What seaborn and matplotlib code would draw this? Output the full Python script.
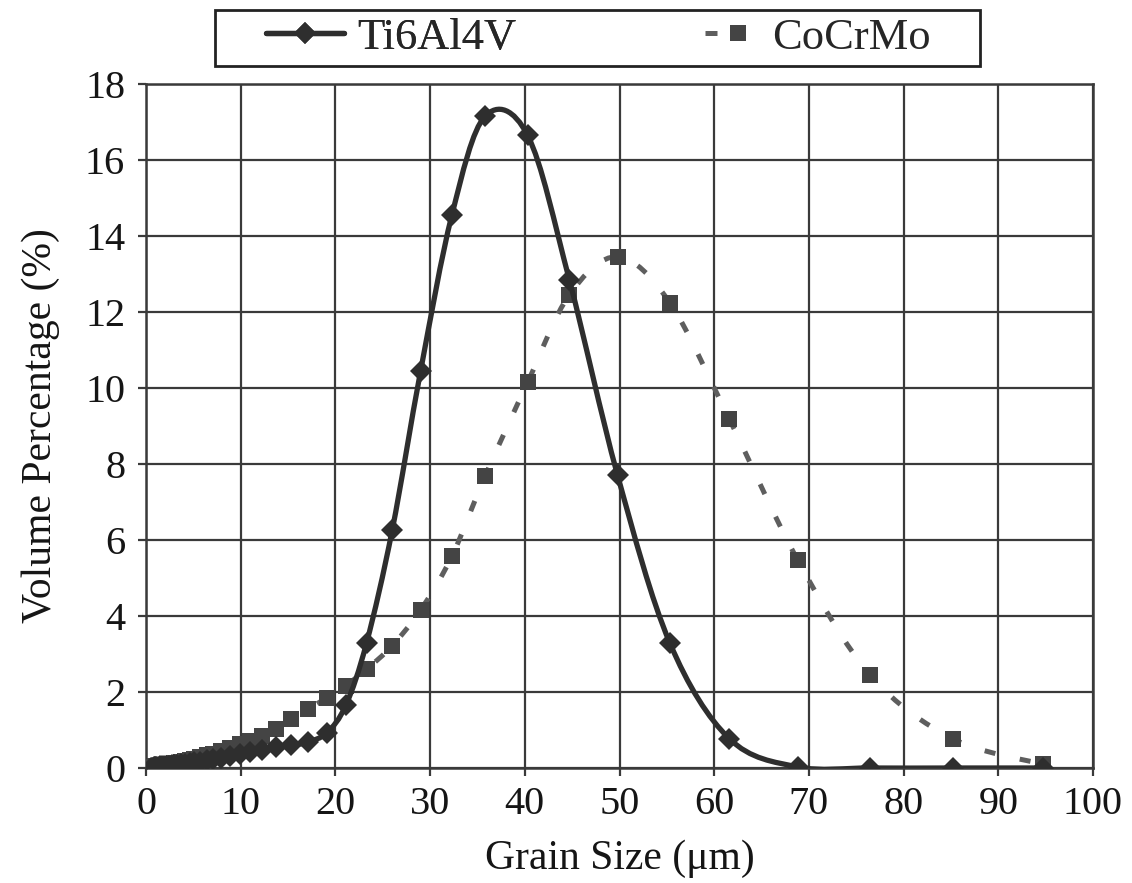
import numpy as np
import pandas as pd
import matplotlib
matplotlib.use("Agg")
import matplotlib.pyplot as plt
from matplotlib.path import Path
from matplotlib.patches import PathPatch, Rectangle
from matplotlib.lines import Line2D
import seaborn as sns

grain_size = [0.5, 0.6, 0.7, 0.8, 0.9, 1.0, 1.1, 1.2, 1.4, 1.5,
              1.7, 1.9, 2.1, 2.4, 2.7, 3.0, 3.3, 3.7, 4.1, 4.6,
              5.1, 5.7, 6.4, 7.1, 7.9, 8.9, 9.9, 11.0, 12.3, 13.7,
              15.3, 17.1, 19.1, 21.1, 23.3, 26.0, 29.0, 32.3, 35.8, 40.3,
              44.7, 49.8, 55.3, 61.6, 68.8, 76.5, 85.2, 94.7]
ti6al4v = [0.01, 0.01, 0.01, 0.02, 0.02, 0.02, 0.03, 0.03, 0.03, 0.04,
           0.04, 0.05, 0.05, 0.06, 0.07, 0.08, 0.09, 0.10, 0.11, 0.13,
           0.15, 0.17, 0.20, 0.23, 0.27, 0.32, 0.37, 0.43, 0.48, 0.54,
           0.60, 0.68, 0.93, 1.65, 3.30, 6.26, 10.45, 14.55, 17.15, 16.65,
           12.85, 7.70, 3.30, 0.77, 0.03, 0.00, 0.00, 0.00]
cocrmo = [0.02, 0.02, 0.03, 0.03, 0.03, 0.04, 0.04, 0.05, 0.05, 0.06,
          0.07, 0.08, 0.09, 0.10, 0.11, 0.12, 0.14, 0.16, 0.18, 0.21,
          0.24, 0.28, 0.33, 0.38, 0.45, 0.53, 0.62, 0.72, 0.85, 1.03,
          1.30, 1.55, 1.85, 2.17, 2.60, 3.22, 4.16, 5.57, 7.68, 10.15,
          12.45, 13.45, 12.25, 9.18, 5.48, 2.44, 0.77, 0.10]
series_names = ["Ti6Al4V", "CoCrMo"]
x_ticks = list(range(0, 101, 10))
y_ticks = list(range(0, 19, 2))

sns.set_theme(style="white")
plt.rcParams["font.family"] = ["Liberation Serif", "DejaVu Serif"]

W, H = 1132, 883
fig = plt.figure(figsize=(W / 100, H / 100), dpi=100)
ax = fig.add_axes([146 / W, 1 - 768 / H, (1093 - 146) / W, (768 - 84) / H])

df = pd.DataFrame({"size": grain_size, "Ti6Al4V": ti6al4v, "CoCrMo": cocrmo})


def smooth_path(xs, ys, tension=0.5):
    # Catmull-Rom style smoothing drawn as a cubic Bezier path through the data points
    xs = np.asarray(xs, float)
    ys = np.asarray(ys, float)
    n = len(xs)
    verts = [(xs[0], ys[0])]
    codes = [Path.MOVETO]
    for i in range(n - 1):
        p0 = np.array([xs[max(i - 1, 0)], ys[max(i - 1, 0)]])
        p1 = np.array([xs[i], ys[i]])
        p2 = np.array([xs[i + 1], ys[i + 1]])
        p3 = np.array([xs[min(i + 2, n - 1)], ys[min(i + 2, n - 1)]])
        c1 = p1 + (p2 - p0) * tension / 3
        c2 = p2 - (p3 - p1) * tension / 3
        verts += [tuple(c1), tuple(c2), tuple(p2)]
        codes += [Path.CURVE4] * 3
    return Path(verts, codes)


line_col = "#2e2e2e"
co_col = "#444444"
dash_col = "#5e5e5e"
text_col = "#151515"

ax.set_xlim(0, 100)
ax.set_ylim(0, 18)
ax.set_xticks(x_ticks)
ax.set_yticks(y_ticks)
ax.grid(True, color="#3a3a3a", linewidth=1.6, zorder=0)
ax.set_axisbelow(True)

# CoCrMo (dashed smoothed line + squares)
ax.add_patch(PathPatch(smooth_path(grain_size, cocrmo), fill=False, edgecolor=dash_col,
                       linewidth=3.6, linestyle=(0, (2.2, 5.0)), capstyle="butt", zorder=2))
sns.lineplot(data=df, x="size", y="CoCrMo", ax=ax, sort=False, linestyle="none",
             marker="s", markersize=12, color=co_col, markeredgewidth=0, zorder=3)

# Ti6Al4V (solid smoothed line + diamonds)
ax.add_patch(PathPatch(smooth_path(grain_size, ti6al4v), fill=False, edgecolor=line_col,
                       linewidth=3.8, zorder=4))
sns.lineplot(data=df, x="size", y="Ti6Al4V", ax=ax, sort=False, linestyle="none",
             marker="D", markersize=11, color=line_col, markeredgewidth=0, zorder=5)

ax.set_xlim(0, 100)
ax.set_ylim(0, 18)
for s in ax.spines.values():
    s.set_color("#3a3a3a")
    s.set_linewidth(1.8)

ax.tick_params(axis="both", which="major", direction="out", length=6, width=1.6,
               color="#3a3a3a", labelsize=29, labelcolor=text_col,
               bottom=True, left=True)
ax.tick_params(axis="x", pad=7)
ax.tick_params(axis="y", pad=9)
ax.set_xlabel("Grain Size (μm)", fontsize=30, color=text_col, labelpad=12)
ax.set_ylabel("Volume Percentage (%)", fontsize=30, color=text_col, labelpad=18)

# legend box (frame drawn behind the two legend entries)
fig.patches.append(Rectangle((215 / W, 1 - 66 / H), (980 - 215) / W, (66 - 10) / H,
                             transform=fig.transFigure, fill=True, facecolor="white",
                             edgecolor="#222222", linewidth=2.0, zorder=0))

h_ti = Line2D([], [], color=line_col, linewidth=3.8, marker="D", markersize=11,
              markeredgewidth=0)
h_co = Line2D([], [], color=dash_col, linewidth=3.6, linestyle=(0, (2.4, 40.0)), marker="s",
              markersize=12, markerfacecolor=co_col, markeredgewidth=0)
leg1 = fig.legend([h_ti], [series_names[0]], loc="center left",
                  bbox_to_anchor=(262 / W, 1 - 38 / H), fontsize=32, frameon=False,
                  handlelength=1.75, handletextpad=0.3, borderpad=0.1, borderaxespad=0)
fig.add_artist(leg1)
leg2 = fig.legend([h_co], [series_names[1]], loc="center left",
                  bbox_to_anchor=(701 / W, 1 - 38 / H), fontsize=32, frameon=False,
                  handlelength=1.45, handletextpad=0.05, borderpad=0.1, borderaxespad=0)

fig.savefig("out.png", dpi=100)
